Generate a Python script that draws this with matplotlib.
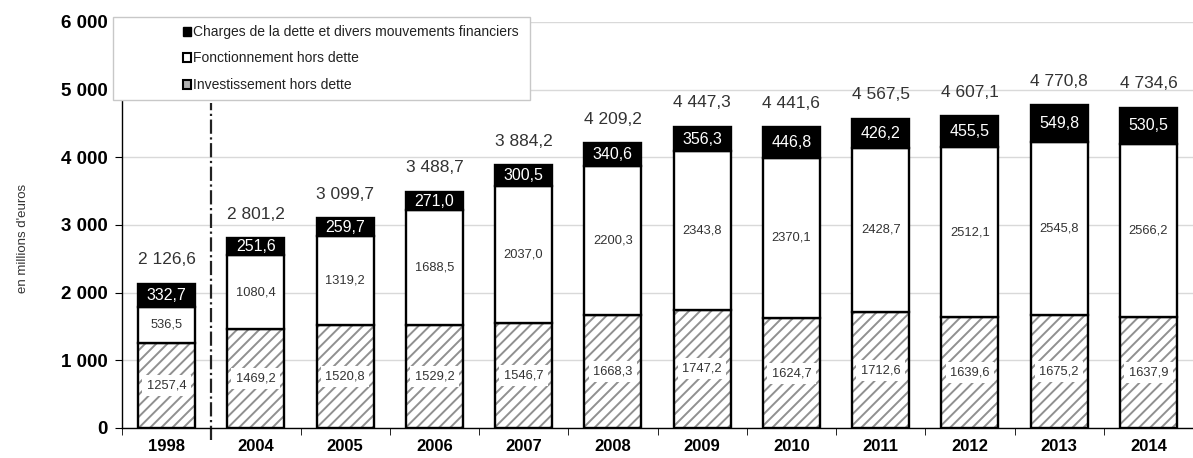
import matplotlib.pyplot as plt
import matplotlib.patches as patches
import numpy as np

plt.rcParams['font.family'] = ['Liberation Sans', 'DejaVu Sans']
plt.rcParams['hatch.linewidth'] = 1.4

annees = ['1998', '2004', '2005', '2006', '2007', '2008', '2009', '2010', '2011', '2012', '2013', '2014']
investissement = [1257.4, 1469.2, 1520.8, 1529.2, 1546.7, 1668.3, 1747.2, 1624.7, 1712.6, 1639.6, 1675.2, 1637.9]
fonctionnement = [536.5, 1080.4, 1319.2, 1688.5, 2037.0, 2200.3, 2343.8, 2370.1, 2428.7, 2512.1, 2545.8, 2566.2]
dette = [332.7, 251.6, 259.7, 271.0, 300.5, 340.6, 356.3, 446.8, 426.2, 455.5, 549.8, 530.5]
totaux = [2126.6, 2801.2, 3099.7, 3488.7, 3884.2, 4209.2, 4447.3, 4441.6, 4567.5, 4607.1, 4770.8, 4734.6]


def fr(v, milliers=False):
    s = f"{v:,.1f}" if milliers else f"{v:.1f}"
    return s.replace(',', ' ').replace('.', ',')


fig = plt.figure(figsize=(11.93, 4.58), dpi=100)
ax = fig.add_axes([122/1193, 1-428/458, 1071/1193, 406/458])

x = np.arange(len(annees))
inv = np.array(investissement)
fon = np.array(fonctionnement)
det = np.array(dette)
w = 0.64

# hachures grises puis contour noir
ax.bar(x, inv, w, color='white', edgecolor='#909090', hatch='///', linewidth=0, zorder=2)
ax.bar(x, inv, w, fill=False, edgecolor='black', linewidth=1.7, zorder=3)
ax.bar(x, fon, w, bottom=inv, color='white', edgecolor='black', linewidth=1.7, zorder=3)
ax.bar(x, det, w, bottom=inv+fon, color='black', edgecolor='black', linewidth=1.7, zorder=3)

for i in range(len(annees)):
    ax.text(x[i], inv[i]/2, fr(inv[i]), ha='center', va='center', fontsize=9.3, color='#333333', zorder=4,
            bbox=dict(boxstyle='square,pad=0.35', facecolor='white', edgecolor='none'))
    ax.text(x[i], inv[i]+fon[i]/2, fr(fon[i]), ha='center', va='center', fontsize=9.3, color='#333333', zorder=4)
    ax.text(x[i], inv[i]+fon[i]+det[i]/2, fr(det[i]), ha='center', va='center', fontsize=11.5,
            color='white', zorder=4)
    ax.annotate(fr(totaux[i], True), (x[i], inv[i]+fon[i]+det[i]), xytext=(0, 12),
                textcoords='offset points', ha='center', va='bottom', fontsize=12.5, color='#333333')

ax.set_xlim(-0.5, len(annees)-0.5)
ax.set_ylim(0, 6000)
ax.set_yticks(np.arange(0, 6001, 1000))
ax.set_yticklabels([f"{v:,}".replace(',', ' ') for v in range(0, 6001, 1000)], fontweight='bold', fontsize=13.5)
ax.set_xticks(x)
ax.set_xticklabels(annees, fontweight='bold', fontsize=12)
ax.set_xticks(np.arange(-0.5, len(annees), 1), minor=True)
ax.tick_params(axis='x', which='major', length=0, pad=8)
ax.tick_params(axis='x', which='minor', length=5, direction='out')
ax.tick_params(axis='y', length=5, direction='out', pad=5)
ax.grid(axis='y', color='#d9d9d9', linewidth=1, zorder=0)
ax.set_axisbelow(True)
for s in ['top', 'right']:
    ax.spines[s].set_visible(False)
ax.spines['left'].set_linewidth(1)
ax.spines['bottom'].set_linewidth(1)
ax.set_ylabel("en millions d'euros", fontsize=9.5, color='#333333')
ax.yaxis.set_label_coords(-0.087, 0.468)

# rupture entre 1998 et 2004
ax.axvline(0.5, ymin=-0.03, ymax=0.80, color='#222222', linestyle='-.', linewidth=1.6, clip_on=False, zorder=1)

# legende
fig.patches.append(patches.Rectangle((113/1193, 1-100/458), 417/1193, 83/458, transform=fig.transFigure,
                                     facecolor='white', edgecolor='#c8c8c8', linewidth=1, zorder=5))
h1 = patches.Patch(facecolor='black', edgecolor='black')
h2 = patches.Patch(facecolor='white', edgecolor='black', linewidth=1.5)
h3 = patches.Patch(facecolor='#b0b0b0', edgecolor='black', linewidth=1.5)
leg = fig.legend([h1, h2, h3], ['Charges de la dette et divers mouvements financiers',
                                'Fonctionnement hors dette', 'Investissement hors dette'],
                 loc='upper left', bbox_to_anchor=(183/1193, 1-25/458), frameon=False, fontsize=10,
                 handlelength=0.6, handleheight=0.6, handletextpad=0.15, labelspacing=0.9,
                 borderpad=0, borderaxespad=0)
leg.set_zorder(6)
for t in leg.get_texts():
    t.set_color('#222222')

fig.savefig('out.png', dpi=100)
